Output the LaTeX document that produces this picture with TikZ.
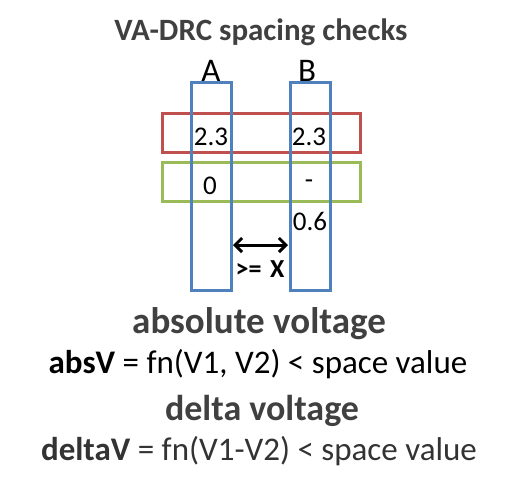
\documentclass[tikz,border=0pt]{standalone}
\usepackage{fontspec}
\setmainfont{Carlito}
\usetikzlibrary{arrows.meta}

\definecolor{wireblue}{HTML}{4F81BD}
\definecolor{boxred}{HTML}{C0504D}
\definecolor{boxgreen}{HTML}{9BBB59}
\definecolor{headgray}{HTML}{404040}

\begin{document}
\begin{tikzpicture}[x=1pt, y=-1pt, >={Straight Barb[length=7pt,width=14pt]},
    wire/.style={draw=wireblue, line width=3pt},
    band/.style={line width=3pt},
    val/.style={font=\fontsize{27}{29}\selectfont},
    head/.style={font=\fontsize{37}{40}\selectfont\bfseries, text=headgray}]
    \useasboundingbox (0,0) rectangle (520,493);

    % voltage bands
    \draw[band, draw=boxred] (162,113) rectangle (360,152);
    \draw[band, draw=boxgreen] (162,162) rectangle (360,201);

    % wires A and B
    \draw[wire] (191,82) rectangle (231,290);
    \draw[wire] (290,82) rectangle (330,290);

    \node[head, font=\fontsize{31}{34}\selectfont\bfseries] (title) at (261,32) {VA-DRC spacing checks};
    \node[font=\fontsize{33}{35}\selectfont] (nameA) at (211,71) {A};
    \node[font=\fontsize{33}{35}\selectfont] (nameB) at (307,71) {B};

    \node[val] (vA1) at (211,137) {2.3};
    \node[val] (vB1) at (309,137) {2.3};
    \node[val] (vA2) at (210,186) {0};
    \node[val] (vB2) at (309,184) {-};
    \node[val] (vB3) at (310,221) {0.6};

    % spacing arrow
    \coordinate (gapL) at (233,245);
    \coordinate (gapR) at (288,245);
    \draw[<->, line width=3pt] (gapL) -- (gapR);
    \node[font=\fontsize{26}{28}\selectfont\bfseries] (space) at (260,269) {>=\,\,X};

    \node[head] (absH) at (259,324) {absolute voltage};
    \node[font=\fontsize{33}{35}\selectfont] (absF) at (258,364) {\textbf{absV} = fn(V1, V2) < space value};
    \node[head, font=\fontsize{36}{39}\selectfont\bfseries] (delH) at (262,411) {delta voltage};
    \node[font=\fontsize{33}{35}\selectfont, text=headgray!80!black] (delF) at (259,451) {\textbf{deltaV} = fn(V1-V2) < space value};
\end{tikzpicture}
\end{document}
